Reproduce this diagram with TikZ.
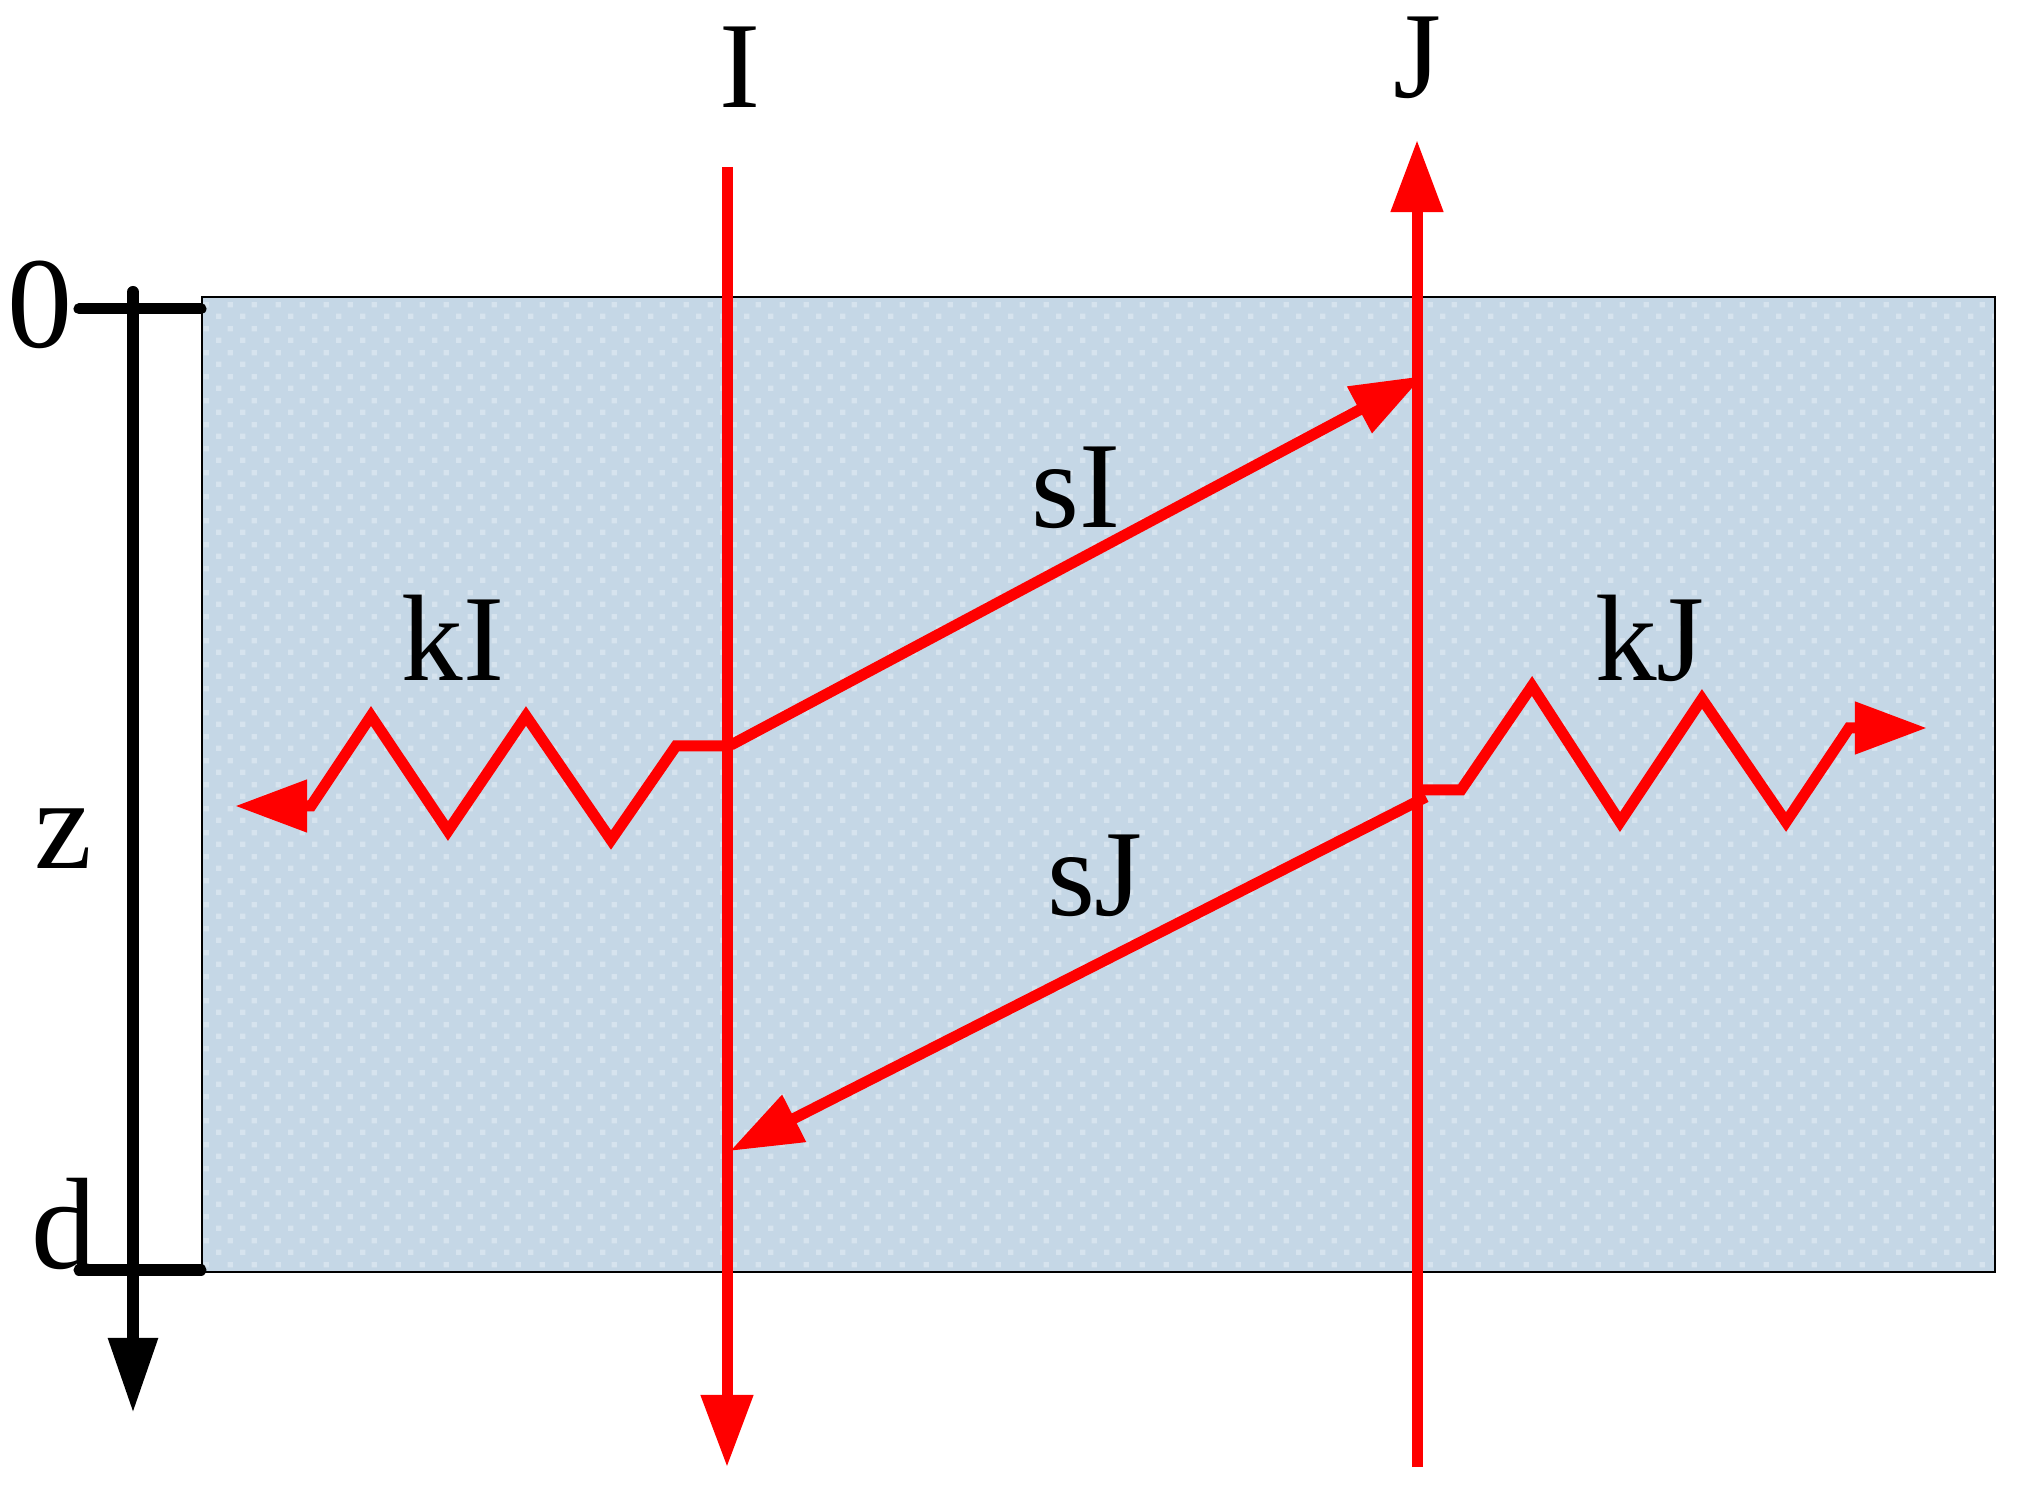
\documentclass[tikz,border=0pt]{standalone}
\usepackage{fontspec}
\setmainfont{Liberation Serif}
\usetikzlibrary{arrows.meta,patterns}
\pgfdeclarepatternformonly{bgdots}{\pgfpointorigin}{\pgfpoint{0.24cm}{0.24cm}}{\pgfpoint{0.24cm}{0.24cm}}{%
  \pgfpathrectangle{\pgfpoint{0cm}{0cm}}{\pgfpoint{0.055cm}{0.055cm}}%
  \pgfpathrectangle{\pgfpoint{0.12cm}{0.12cm}}{\pgfpoint{0.055cm}{0.055cm}}%
  \pgfusepath{fill}}
\definecolor{slab}{HTML}{C5D7E6}
\definecolor{slabdot}{HTML}{D6E3EE}
\begin{document}
\begin{tikzpicture}[x=0.01cm,y=-0.01cm,
  lab/.style={font=\fontsize{35}{35}\selectfont, inner sep=0pt, anchor=base},
  axlab/.style={font=\fontsize{37}{37}\selectfont, inner sep=0pt, anchor=base},
  ray/.style={red, line width=0.11cm},
  rtip/.style={-{Triangle[length=0.72cm,width=0.5cm]}},
  axis/.style={black, line width=0.12cm, line cap=round, -{Triangle[length=0.75cm,width=0.47cm]}},
  tick/.style={black, line width=0.11cm, line cap=round}]
\useasboundingbox (0,0) rectangle (2018,1495);

% slab
\fill[slab] (202,297) rectangle (1995,1272);
\fill[pattern=bgdots, pattern color=slabdot] (202,297) rectangle (1995,1272);
\draw[black, line width=0.02cm] (202,297) rectangle (1995,1272);

% coordinates
\coordinate (axtop) at (133,292);
\coordinate (axbot) at (133,1413);
\coordinate (t0a) at (79,309);  \coordinate (t0b) at (201,309);
\coordinate (tda) at (79,1270); \coordinate (tdb) at (201,1270);
\coordinate (Itop) at (727,167);  \coordinate (Ibot) at (727,1467);
\coordinate (Jbot) at (1417,1467); \coordinate (Jtop) at (1417,140);
\coordinate (sIa) at (731,745);  \coordinate (sIb) at (1423,376);
\coordinate (sJa) at (1426,797); \coordinate (sJb) at (730,1151);
\coordinate (kIa) at (727,746);  \coordinate (kIb) at (235,806);
\coordinate (kJa) at (1417,790); \coordinate (kJb) at (1927,728);

% depth axis
\draw[axis] (axtop) -- (axbot);
\draw[tick] (t0a) -- (t0b);
\draw[tick] (tda) -- (tdb);

% red rays
\draw[ray, rtip] (Itop) -- (Ibot);
\draw[ray, rtip] (Jbot) -- (Jtop);
\draw[ray, rtip] (sIa) -- (sIb);
\draw[ray, rtip] (sJa) -- (sJb);
\draw[ray, rtip] (kIa) -- (676,746) -- (611,840) -- (526,716) -- (448,831)
   -- (371,716) -- (311,806) -- (kIb);
\draw[ray, rtip] (kJa) -- (1461,790) -- (1532,686) -- (1620,822) -- (1702,699)
   -- (1786,822) -- (1849,728) -- (kJb);

% labels
\node[lab] (labI) at (740,108) {I};
\node[lab] (labJ) at (1417,98) {J};
\node[lab] (labsI) at (1076,528) {sI};
\node[lab] (labsJ) at (1095,916) {sJ};
\node[lab] (labkI) at (453,681) {kI};
\node[lab] (labkJ) at (1650,681) {kJ};
\node[axlab] (lab0) at (40,348) {0};
\node[axlab] (labd) at (64,1268) {d};
\node[axlab] (labz) at (63,869) {z};
\end{tikzpicture}
\end{document}
